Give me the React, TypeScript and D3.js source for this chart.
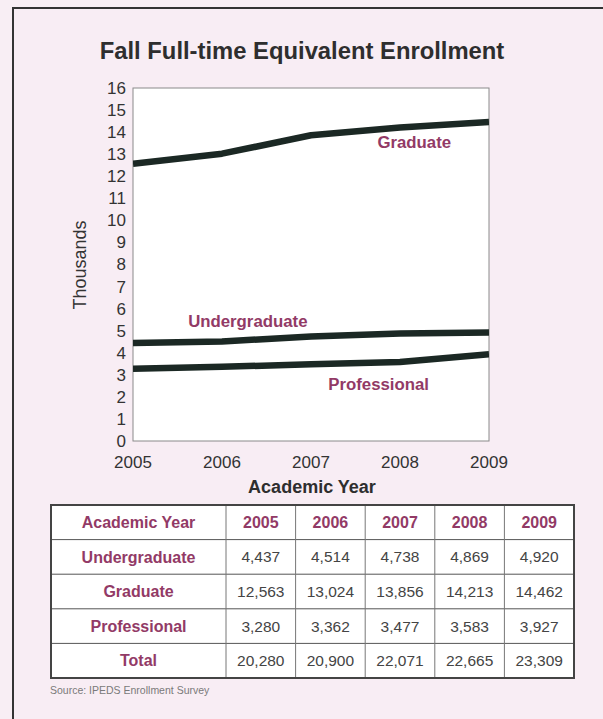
import React from 'react';
import * as d3 from 'd3';

const years = [2005, 2006, 2007, 2008, 2009];
const undergraduate = [4437, 4514, 4738, 4869, 4920];
const graduate = [12563, 13024, 13856, 14213, 14462];
const professional = [3280, 3362, 3477, 3583, 3927];
const totals = [20280, 20900, 22071, 22665, 23309];
const yTicks = d3.range(0, 17);

const seriesNames = ['Undergraduate', 'Graduate', 'Professional'];
const seriesValues = [undergraduate, graduate, professional];
// label anchors, in data units (year, thousands)
const labelYears = [2006.29, 2008.16, 2007.76];
const labelValues = [5.45, 13.55, 2.6];

const W = 603;
const H = 719;
const plot = { left: 133, right: 489, top: 88, bottom: 441 };
const maroon = '#923a66';
const lineColor = '#1b2824';
const font = '"Liberation Sans", Arial, sans-serif';

const App = () => {
  const x = d3.scaleLinear().domain([2005, 2009]).range([plot.left, plot.right]);
  const y = d3.scaleLinear().domain([0, 16]).range([plot.bottom, plot.top]);
  const line = d3
    .line<number>()
    .x((_, i) => x(years[i]))
    .y(d => y(d / 1000));

  // table geometry
  const tableLeft = 51;
  const tableRight = 574;
  const firstCol = 175;
  const tableTop = 505;
  const rowH = 34.6;
  const colX = d3
    .scaleLinear()
    .domain([0, years.length])
    .range([tableLeft + firstCol, tableRight]);
  const rows = [
    { label: 'Academic Year', cells: years.map(String), header: true },
    ...seriesNames.map((n, i) => ({ label: n, cells: seriesValues[i].map(d3.format(',')), header: false })),
    { label: 'Total', cells: totals.map(d3.format(',')), header: false },
  ];
  const tableBottom = tableTop + rowH * rows.length;

  return (
    <div style={{ position: 'absolute', left: 0, top: 0 }}>
      <svg width={W} height={H} style={{ display: 'block', fontFamily: font }}>
        <rect x={0} y={0} width={W} height={H} fill="#f8eef4" />
        <rect x={13} y={8} width={W + 20} height={H + 20} fill="#f8edf4" stroke="#333" strokeWidth={2} />

        <text x={302} y={59} textAnchor="middle" fontSize={23.8} fontWeight="bold" fill="#2e2e2e">
          Fall Full-time Equivalent Enrollment
        </text>

        <rect
          x={plot.left}
          y={plot.top}
          width={plot.right - plot.left}
          height={plot.bottom - plot.top}
          fill="#fff"
          stroke="#8a8a8a"
          strokeWidth={1}
        />

        {yTicks.map(t => (
          <text key={t} x={126} y={y(t)} dy="0.35em" textAnchor="end" fontSize={17} fill="#333">
            {t}
          </text>
        ))}
        {years.map(yr => (
          <text key={yr} x={x(yr)} y={462} dy="0.35em" textAnchor="middle" fontSize={17} fill="#333">
            {yr}
          </text>
        ))}
        <text x={312} y={487} dy="0.35em" textAnchor="middle" fontSize={18} fontWeight="bold" fill="#2e2e2e">
          Academic Year
        </text>
        <text
          transform={`translate(80,265) rotate(-90)`}
          dy="0.35em"
          textAnchor="middle"
          fontSize={18}
          fill="#333"
        >
          Thousands
        </text>

        <g clipPath="url(#plotclip)">
          {seriesValues.map((vals, i) => (
            <path
              key={seriesNames[i]}
              d={line(vals) || ''}
              fill="none"
              stroke={lineColor}
              strokeWidth={6.5}
              strokeLinejoin="round"
            />
          ))}
        </g>
        <defs>
          <clipPath id="plotclip">
            <rect x={plot.left} y={plot.top} width={plot.right - plot.left} height={plot.bottom - plot.top} />
          </clipPath>
        </defs>

        {seriesNames.map((n, i) => (
          <text
            key={n}
            x={x(labelYears[i])}
            y={y(labelValues[i])}
            dy="0.35em"
            textAnchor="middle"
            fontSize={16.8}
            fontWeight="bold"
            fill={maroon}
          >
            {n}
          </text>
        ))}

        {/* table */}
        <rect x={tableLeft} y={tableTop} width={tableRight - tableLeft} height={tableBottom - tableTop} fill="#fff" />
        {rows.slice(1).map((_, i) => (
          <line
            key={i}
            x1={tableLeft}
            x2={tableRight}
            y1={tableTop + rowH * (i + 1)}
            y2={tableTop + rowH * (i + 1)}
            stroke="#555"
            strokeWidth={1}
          />
        ))}
        {d3.range(0, years.length).map(c => (
          <line key={c} x1={colX(c)} x2={colX(c)} y1={tableTop} y2={tableBottom} stroke="#777" strokeWidth={1} />
        ))}
        <rect
          x={tableLeft}
          y={tableTop}
          width={tableRight - tableLeft}
          height={tableBottom - tableTop}
          fill="none"
          stroke="#444"
          strokeWidth={2}
        />
        {rows.map((r, ri) => (
          <g key={r.label}>
            <text
              x={tableLeft + firstCol / 2}
              y={tableTop + rowH * (ri + 0.5)}
              dy="0.35em"
              textAnchor="middle"
              fontSize={16}
              fontWeight="bold"
              fill={maroon}
            >
              {r.label}
            </text>
            {r.cells.map((c, ci) => (
              <text
                key={ci}
                x={(colX(ci) + colX(ci + 1)) / 2}
                y={tableTop + rowH * (ri + 0.5)}
                dy="0.35em"
                textAnchor="middle"
                fontSize={r.header ? 16 : 15.5}
                fontWeight={r.header ? 'bold' : 'normal'}
                fill={r.header ? maroon : '#444'}
              >
                {c}
              </text>
            ))}
          </g>
        ))}

        <text
          x={50}
          y={690}
          dy="0.35em"
          fontSize={10.5}
          fill="#7a7a7a"
          style={{ fontFamily: '"Liberation Sans Narrow", "Liberation Sans", sans-serif' }}
        >
          Source: IPEDS Enrollment Survey
        </text>
      </svg>
    </div>
  );
};

export default App;
